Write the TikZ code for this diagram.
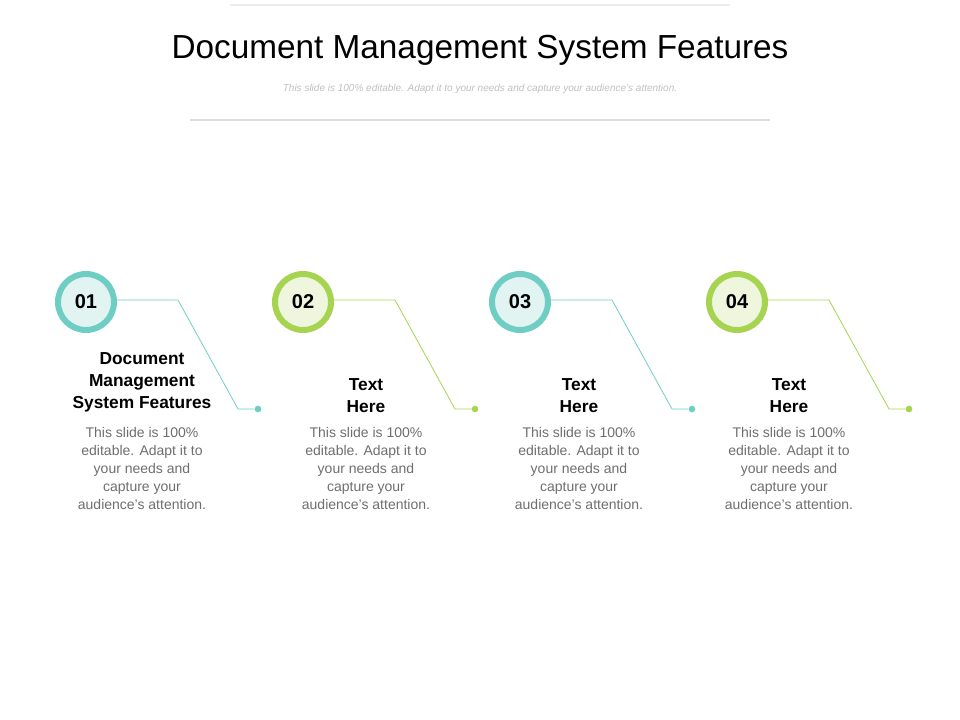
\documentclass[tikz,border=0pt]{standalone}
\usepackage{fontspec}
\setmainfont{Liberation Sans}
\usetikzlibrary{positioning}
\definecolor{tealc}{RGB}{111,206,196}
\definecolor{greenc}{RGB}{166,212,80}
\definecolor{tealf}{RGB}{226,244,241}
\definecolor{greenf}{RGB}{238,247,222}
\definecolor{bodyc}{RGB}{110,110,110}
\tikzset{
  ring/.style={circle,line width=4.5pt,minimum size=42pt,inner sep=0pt,font=\fontsize{15}{15}\selectfont\bfseries},
  head/.style={align=center,font=\fontsize{13}{16.5}\selectfont\bfseries},
  body/.style={align=center,text=bodyc,font=\fontsize{10.5}{13.5}\selectfont},
  dot/.style={circle,inner sep=0pt,minimum size=5pt}
}
\begin{document}
\begin{tikzpicture}[x=0.75pt,y=-0.75pt]
    \useasboundingbox (0,0) rectangle (960,720);
    \draw[gray!15,line width=1pt] (230,5) -- (730,5);
    \draw[gray!25,line width=1pt] (190,120) -- (770,120);
    \node (title) at (480,50) {\fontsize{25}{25}\selectfont Document Management System Features};
    \node (sub) at (480,89) {\fontsize{7.5}{7.5}\selectfont\itshape\color{gray!50}This slide is 100\% editable. Adapt it to your needs and capture your audience’s attention.};

    \foreach \i/\cx/\tx/\col/\fil/\txt in {
        1/86/142/tealc/tealf/{Document\\Management\\System Features},
        2/303/366/greenc/greenf/{Text\\Here},
        3/520/579/tealc/tealf/{Text\\Here},
        4/737/789/greenc/greenf/{Text\\Here}} {
        \node[ring,draw=\col,fill=\fil] (c\i) at (\cx,302) {0\i};
        \coordinate (k\i) at (\cx+92,300);
        \coordinate (b\i) at (\cx+152,409);
        \node[dot,fill=\col] (d\i) at (\cx+172,409) {};
        \draw[\col,line width=0.6pt] (c\i.east |- k\i) -- (k\i) -- (b\i) -- (d\i);
        \node[head,anchor=south] (h\i) at (\tx,417) {\txt};
        \node[body,anchor=north] (t\i) at (\tx,423) {This slide is 100\%\\editable. Adapt it to\\your needs and\\capture your\\audience's attention.};
    }
\end{tikzpicture}
\end{document}
